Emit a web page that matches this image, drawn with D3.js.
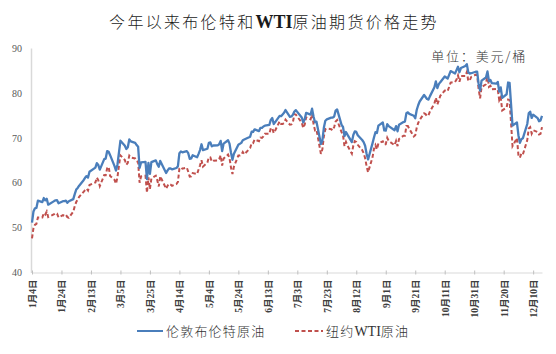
<!DOCTYPE html>
<html>
<head>
<meta charset="utf-8">
<script src="https://cdn.jsdelivr.net/npm/d3@7"></script>
<style>
  body { margin: 0; background: #fff; }
  svg { display: block; }
</style>
</head>
<body>
<svg id="paper"></svg>
<script>
// trading days 2021 (MM-DD)
let days = [
  "01-04","01-05","01-06","01-07","01-08","01-11","01-12","01-13","01-14","01-15","01-19","01-20","01-21","01-22","01-25","01-26","01-27","01-28","01-29",
  "02-01","02-02","02-03","02-04","02-05","02-08","02-09","02-10","02-11","02-12","02-16","02-17","02-18","02-19","02-22","02-23","02-24","02-25","02-26",
  "03-01","03-02","03-03","03-04","03-05","03-08","03-09","03-10","03-11","03-12","03-15","03-16","03-17","03-18","03-19","03-22","03-23","03-24","03-25","03-26","03-29","03-30","03-31",
  "04-01","04-05","04-06","04-07","04-08","04-09","04-12","04-13","04-14","04-15","04-16","04-19","04-20","04-21","04-22","04-23","04-26","04-27","04-28","04-29","04-30",
  "05-03","05-04","05-05","05-06","05-07","05-10","05-11","05-12","05-13","05-14","05-17","05-18","05-19","05-20","05-21","05-24","05-25","05-26","05-27","05-28",
  "06-01","06-02","06-03","06-04","06-07","06-08","06-09","06-10","06-11","06-14","06-15","06-16","06-17","06-18","06-21","06-22","06-23","06-24","06-25","06-28","06-29","06-30",
  "07-01","07-02","07-06","07-07","07-08","07-09","07-12","07-13","07-14","07-15","07-16","07-19","07-20","07-21","07-22","07-23","07-26","07-27","07-28","07-29","07-30",
  "08-02","08-03","08-04","08-05","08-06","08-09","08-10","08-11","08-12","08-13","08-16","08-17","08-18","08-19","08-20","08-23","08-24","08-25","08-26","08-27","08-30","08-31",
  "09-01","09-02","09-03","09-07","09-08","09-09","09-10","09-13","09-14","09-15","09-16","09-17","09-20","09-21","09-22","09-23","09-24","09-27","09-28","09-29","09-30",
  "10-01","10-04","10-05","10-06","10-07","10-08","10-11","10-12","10-13","10-14","10-15","10-18","10-19","10-20","10-21","10-22","10-25","10-26","10-27","10-28","10-29",
  "11-01","11-02","11-03","11-04","11-05","11-08","11-09","11-10","11-11","11-12","11-15","11-16","11-17","11-18","11-19","11-22","11-23","11-24","11-26","11-29","11-30",
  "12-01","12-02","12-03","12-06","12-07","12-08","12-09","12-10","12-13","12-14","12-15","12-16"
];

let brent = [
  51.09,53.60,54.30,54.38,55.99,55.66,56.58,56.06,56.42,55.10,55.90,56.08,56.10,55.41,55.88,55.91,56.00,55.53,55.88,
  56.35,57.46,58.46,58.84,59.34,60.56,61.09,61.47,61.14,62.43,63.35,64.34,63.93,62.91,65.24,65.37,67.04,66.88,66.13,
  63.69,62.70,64.07,66.74,69.36,68.24,67.52,67.90,69.63,69.22,68.88,68.39,68.00,63.28,64.53,64.62,60.79,64.41,61.95,64.57,64.98,64.14,63.54,
  64.86,62.15,62.74,63.16,63.20,62.95,63.28,63.67,66.58,66.94,66.77,67.05,66.57,65.32,65.40,66.11,65.65,66.42,67.27,68.56,67.25,
  67.56,68.88,68.96,68.09,68.28,68.32,68.55,69.32,67.05,68.71,69.46,68.71,66.66,65.11,66.44,68.46,68.65,68.87,69.46,69.63,
  70.25,71.35,71.31,71.89,71.49,72.22,72.22,72.52,72.69,72.86,73.99,74.39,73.08,73.51,74.90,74.81,75.19,75.56,76.18,74.68,74.76,75.13,
  75.84,76.17,74.53,73.43,74.12,75.55,75.16,76.49,74.76,73.47,73.59,68.62,69.35,72.23,73.79,74.10,74.50,74.48,74.74,76.05,76.33,
  72.89,72.41,70.38,71.29,70.70,69.04,70.63,71.44,71.31,70.59,69.51,69.03,68.23,66.45,65.18,68.75,70.05,71.25,71.07,72.70,73.41,71.63,
  71.59,73.03,72.61,71.69,72.60,71.45,72.92,73.51,73.60,75.46,75.67,75.34,74.92,74.36,76.19,77.25,78.09,79.53,79.09,78.64,78.52,
  79.28,81.26,82.56,81.08,81.95,82.39,83.65,83.42,83.18,84.00,84.86,84.33,85.08,85.82,84.61,85.53,85.99,86.40,84.58,84.32,84.38,
  84.71,84.72,81.99,80.54,82.74,83.43,84.78,82.64,82.87,82.17,82.05,82.43,80.28,81.24,78.89,79.70,82.31,82.25,72.72,73.44,70.57,
  68.87,69.67,69.88,73.08,75.44,75.82,74.42,75.15,74.39,73.70,73.88,74.88
];

let wti = [
  47.62,49.93,50.63,50.83,52.24,52.25,53.21,52.91,53.57,52.36,52.98,53.24,53.13,52.27,52.77,52.61,52.85,52.34,52.20,
  53.55,54.76,55.69,56.23,56.85,57.97,58.36,58.68,58.24,59.47,60.05,61.14,60.52,59.24,61.70,61.67,63.22,63.53,61.50,
  60.64,59.75,61.28,63.83,66.09,65.05,64.01,64.44,66.02,65.61,65.39,64.80,64.60,60.00,61.42,61.55,57.76,61.18,58.56,60.97,61.56,60.55,59.16,
  61.45,58.65,59.33,59.77,59.60,59.32,59.70,60.18,63.15,63.46,63.13,63.38,62.44,61.35,61.43,62.14,61.91,62.94,63.86,65.01,63.58,
  64.49,65.69,65.63,64.71,64.90,64.92,65.28,66.08,63.82,65.37,66.27,65.49,63.36,61.94,63.58,66.05,66.07,66.21,66.85,66.32,
  67.72,68.83,68.81,69.62,69.23,70.05,69.96,70.29,70.91,70.88,72.12,72.15,71.04,71.64,73.66,73.06,73.08,73.30,74.05,72.91,72.98,73.47,
  75.23,75.16,73.37,72.20,72.94,74.56,74.10,75.25,73.13,71.65,71.81,66.42,67.42,70.30,71.91,72.07,71.91,71.65,72.39,73.62,73.95,
  71.26,70.56,68.15,69.09,68.28,66.48,68.29,69.25,69.09,68.44,67.29,66.59,65.46,63.69,62.32,65.64,67.54,68.36,67.42,68.74,69.21,68.50,
  68.59,69.99,69.29,68.35,69.30,68.14,69.72,70.45,70.46,72.61,72.61,71.97,70.29,70.56,72.23,73.30,73.98,75.45,75.29,74.83,75.03,
  75.88,77.62,78.93,77.43,78.30,79.35,80.52,80.64,80.44,81.31,82.28,82.44,82.96,83.87,82.50,83.76,83.76,84.65,82.66,82.81,83.57,
  84.05,83.91,80.86,78.81,81.27,81.93,84.15,81.34,81.59,80.79,80.88,80.76,78.36,79.01,76.10,76.75,78.50,78.39,68.15,69.95,66.18,
  65.57,66.50,66.26,69.49,72.05,72.36,70.94,71.67,71.29,70.73,70.87,72.38
];

let yTicks = [40, 50, 60, 70, 80, 90];
let colors = ["#4a7ebb", "#c0504d"];

let width = 556, height = 354;
let parse = d3.timeParse("%Y-%m-%d");
let dates = days.map(d => parse("2021-" + d));

let svg = d3.select("#paper")
    .attr("width", width)
    .attr("height", height);

let x = d3.scaleTime()
    .domain([parse("2021-01-04"), parse("2021-12-16")])
    .range([32, 542]);
let y = d3.scaleLinear()
    .domain([40, 90])
    .range([272.5, 48]);

let cjk = "'Noto Sans CJK SC'";
let serif = "'Liberation Serif'";

// title, WTI in bold serif
let title = svg.append("text")
    .attr("x", 274)
    .attr("y", 28)
    .attr("text-anchor", "middle")
    .style("font-family", cjk)
    .style("font-size", "16px")
    .style("font-weight", 300)
    .style("letter-spacing", "2.3px")
    .attr("fill", "#1a1a1a");
title.append("tspan").text("今年以来布伦特和");
title.append("tspan")
    .style("font-family", serif)
    .style("font-weight", "bold")
    .style("font-size", "18px")
    .style("letter-spacing", "0px")
    .text("WTI");
title.append("tspan").text("原油期货价格走势");

svg.append("text")
    .attr("x", 527)
    .attr("y", 61)
    .attr("text-anchor", "end")
    .style("font-family", cjk)
    .style("font-size", "13px")
    .style("font-weight", 300)
    .style("letter-spacing", "1.8px")
    .attr("fill", "#333")
    .text("单位：美元/桶");

// y axis
let yAxis = svg.append("g")
    .attr("transform", "translate(31,0)")
    .call(d3.axisLeft(y).tickValues(yTicks).tickSize(0).tickPadding(9));
yAxis.select(".domain").attr("stroke", "#d9d9d9").attr("stroke-width", 1.5);
yAxis.selectAll("text")
    .style("font-family", serif)
    .style("font-size", "10px")
    .attr("fill", "#595959");

// x axis, a tick every 20 days
let xTickDates = d3.range(18).map(i => d3.timeDay.offset(parse("2021-01-04"), i * 20));
let fmt = d => (d.getMonth() + 1) + "月" + d.getDate() + "日";
let xAxis = svg.append("g")
    .attr("transform", "translate(0," + y(40) + ")")
    .call(d3.axisBottom(x).tickValues(xTickDates).tickFormat(fmt).tickSizeInner(3).tickSizeOuter(0));
xAxis.select(".domain").attr("stroke", "#d9d9d9").attr("stroke-width", 1.2);
xAxis.selectAll(".tick line").attr("stroke", "#bfbfbf").attr("y1", -2).attr("y2", 2);
xAxis.selectAll("text")
    .attr("transform", "rotate(-90)")
    .attr("x", -7)
    .attr("y", 0)
    .attr("dy", "0.35em")
    .attr("text-anchor", "end")
    .style("font-family", serif + ", " + cjk)
    .style("font-size", "9.5px")
    .style("font-weight", "bold")
    .attr("fill", "#404040");

// lines
let line = d3.line()
    .x((d, i) => x(dates[i]))
    .y(d => y(d));

svg.append("path")
    .datum(wti)
    .attr("d", line)
    .attr("fill", "none")
    .attr("stroke", colors[1])
    .attr("stroke-width", 2)
    .attr("stroke-dasharray", "4,2.5");

svg.append("path")
    .datum(brent)
    .attr("d", line)
    .attr("fill", "none")
    .attr("stroke", colors[0])
    .attr("stroke-width", 2.3)
    .attr("stroke-linejoin", "round");

// legend
let legend = [
    {parts: [["伦敦布伦特原油", cjk]], x1: 137, x2: 163, dash: null, color: colors[0]},
    {parts: [["纽约", cjk], ["WTI", serif], ["原油", cjk]], x1: 295, x2: 323, dash: "4,2.5", color: colors[1]}
];
let lg = svg.selectAll(".legend")
    .data(legend)
    .enter()
    .append("g")
    .classed("legend", true);
lg.append("line")
    .attr("x1", d => d.x1)
    .attr("x2", d => d.x2)
    .attr("y1", 331)
    .attr("y2", 331)
    .attr("stroke", d => d.color)
    .attr("stroke-width", 2)
    .attr("stroke-dasharray", d => d.dash);
lg.append("text")
    .attr("x", d => d.x2 + 3)
    .attr("y", 336)
    .style("font-size", "13px")
    .style("font-weight", 300)
    .style("letter-spacing", "1.2px")
    .attr("fill", "#333")
    .selectAll("tspan")
    .data(d => d.parts)
    .enter()
    .append("tspan")
    .style("font-family", d => d[1])
    .style("font-size", d => d[1] == serif ? "14px" : null)
    .style("letter-spacing", d => d[1] == serif ? "0px" : null)
    .text(d => d[0]);
</script>
</body>
</html>
